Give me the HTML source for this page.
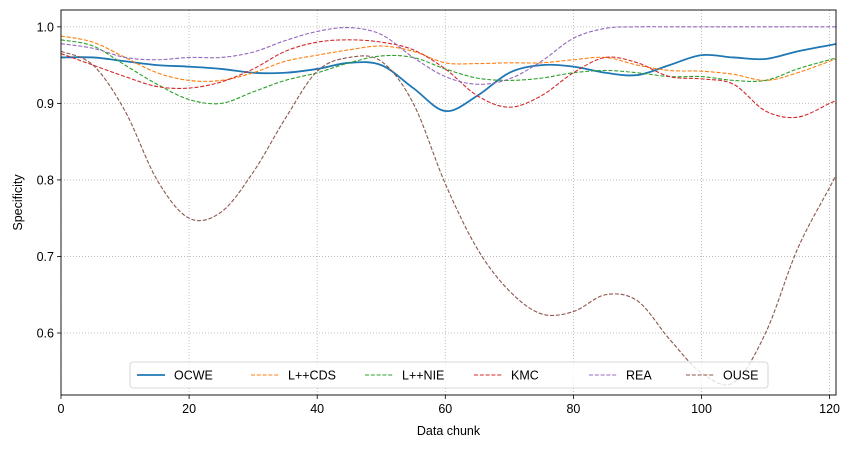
<!DOCTYPE html>
<html><head><meta charset="utf-8"><style>
body{margin:0;background:#fff;font-family:"Liberation Sans",sans-serif;}
svg text{font-family:"Liberation Sans",sans-serif;font-size:12.5px;fill:#000;}
</style></head><body>
<svg id="chart" width="853" height="448"></svg>
<script>
const chunks=[0,5,10,15,20,25,30,35,40,45,50,55,60,65,70,75,80,85,90,95,100,105,110,115,120];
const seriesNames=["OCWE","L++CDS","L++NIE","KMC","REA","OUSE"];
const ocwe=[0.96,0.96,0.955,0.95,0.948,0.945,0.94,0.94,0.945,0.953,0.95,0.92,0.89,0.91,0.94,0.95,0.948,0.94,0.937,0.95,0.963,0.96,0.958,0.968,0.976];
const lcds=[0.988,0.98,0.96,0.94,0.93,0.93,0.94,0.955,0.963,0.97,0.975,0.968,0.953,0.952,0.953,0.953,0.957,0.96,0.95,0.943,0.942,0.938,0.93,0.94,0.955];
const lnie=[0.983,0.975,0.95,0.925,0.905,0.9,0.915,0.93,0.94,0.953,0.962,0.96,0.945,0.933,0.93,0.933,0.94,0.943,0.94,0.935,0.935,0.93,0.93,0.945,0.957];
const kmc=[0.965,0.95,0.935,0.922,0.92,0.928,0.945,0.968,0.98,0.983,0.98,0.97,0.945,0.91,0.895,0.91,0.94,0.96,0.953,0.935,0.932,0.925,0.89,0.882,0.9];
const rea=[0.978,0.972,0.96,0.957,0.96,0.96,0.967,0.982,0.994,0.999,0.99,0.96,0.935,0.925,0.932,0.955,0.985,0.998,1.0,1.0,1.0,1.0,1.0,1.0,1.0];
const ouse=[0.968,0.95,0.89,0.8,0.75,0.758,0.81,0.88,0.942,0.96,0.955,0.9,0.795,0.71,0.655,0.625,0.628,0.65,0.642,0.592,0.548,0.535,0.6,0.71,0.79];
const xTicks=[0,20,40,60,80,100,120];
const yTicks=[0.6,0.7,0.8,0.9,1.0];
const yTickLabels=["0.6","0.7","0.8","0.9","1.0"];

const L=61,R=836,T=10,B=395,XMIN=0,XMAX=121,YMIN=0.519,YMAX=1.022;
const sx=v=>L+(v-XMIN)/(XMAX-XMIN)*(R-L);
const sy=v=>B-(v-YMIN)/(YMAX-YMIN)*(B-T);
const NS="http://www.w3.org/2000/svg";
const svg=document.getElementById('chart');
function mk(tag,attrs,parent){const e=document.createElementNS(NS,tag);for(const k in attrs)e.setAttribute(k,attrs[k]);(parent||svg).appendChild(e);return e;}
const defs=mk('defs',{});const cp=mk('clipPath',{id:'clip'},defs);mk('rect',{x:L,y:T,width:R-L,height:B-T},cp);

xTicks.forEach(t=>{
  const g=mk('line',{x1:sx(t),x2:sx(t),y1:T,y2:B,stroke:'#b0b0b0','stroke-width':0.8,'stroke-dasharray':'1,2'});
  
  
  mk('line',{x1:sx(t),x2:sx(t),y1:B,y2:B+4,stroke:'#000','stroke-width':0.8});
  const tx=mk('text',{x:sx(t),y:B+18,'text-anchor':'middle'});tx.textContent=t;
  
  
});
yTicks.forEach((t,i)=>{
  const g=mk('line',{x1:L,x2:R,y1:sy(t),y2:sy(t),stroke:'#b0b0b0','stroke-width':0.8,'stroke-dasharray':'1,2'});
  
  
  mk('line',{x1:L-4,x2:L,y1:sy(t),y2:sy(t),stroke:'#000','stroke-width':0.8});
  const tx=mk('text',{x:L-7,y:sy(t)+4.5,'text-anchor':'end'});tx.textContent=yTickLabels[i];
  
  
});

function pathFor(vals){
  const p=chunks.map((c,i)=>[sx(c),sy(vals[i])]);
  let d=`M${p[0][0]},${p[0][1]}`;
  for(let i=0;i<p.length-1;i++){
    const p0=p[Math.max(0,i-1)],p1=p[i],p2=p[i+1],p3=p[Math.min(p.length-1,i+2)];
    const c1=[p1[0]+(p2[0]-p0[0])/6,p1[1]+(p2[1]-p0[1])/6];
    const c2=[p2[0]-(p3[0]-p1[0])/6,p2[1]-(p3[1]-p1[1])/6];
    d+=` C${c1[0]},${c1[1]} ${c2[0]},${c2[1]} ${p2[0]},${p2[1]}`;
  }
  const last=p[p.length-1];
  d+=` L${sx(XMAX)},${last[1]+(last[1]-p[p.length-2][1])/5}`;
  return d;
}
const allVals=[ocwe,lcds,lnie,kmc,rea,ouse];
const colors=["#1f77b4","#ff7f0e","#2ca02c","#d62728","#9467bd","#8c564b"];
const slugs=["ocwe","lcds","lnie","kmc","rea","ouse"];
allVals.forEach((v,i)=>{
  const solid=i===0;
  const p=mk('path',{d:pathFor(v),fill:'none',stroke:colors[i],'stroke-width':solid?1.8:1.1,'stroke-dasharray':solid?'none':'4,1.8','clip-path':'url(#clip)'});
  
  
});
const frame=mk('rect',{x:L,y:T,width:R-L,height:B-T,fill:'none',stroke:'#000','stroke-width':0.9});



const xl=mk('text',{x:(L+R)/2,y:435,'text-anchor':'middle'});xl.textContent='Data chunk';


const yl=mk('text',{x:22,y:(T+B)/2,'text-anchor':'middle',transform:`rotate(-90 22 ${(T+B)/2})`});yl.textContent='Specificity';



const lg=mk('g',{});


mk('rect',{x:130,y:362,width:638,height:26,rx:3,fill:'#fff','fill-opacity':0.8,stroke:'#ccc','stroke-width':0.8},lg);
const lineX=[137,251,365,474,589,686];
seriesNames.forEach((n,i)=>{
  const e=mk('g',{},lg);
  
  
  mk('line',{x1:lineX[i],x2:lineX[i]+28,y1:375,y2:375,stroke:colors[i],'stroke-width':i===0?1.8:1.1,'stroke-dasharray':i===0?'none':'4,1.8'},e);
  const t=mk('text',{x:lineX[i]+37,y:379.5},e);t.textContent=n;
});
</script>
</body></html>
